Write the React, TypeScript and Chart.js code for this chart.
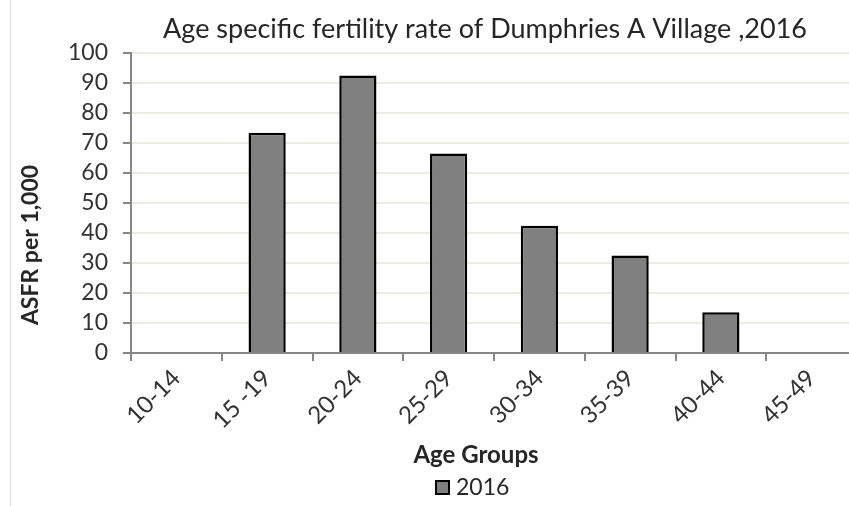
import React, { useEffect, useRef } from 'react';
import { Chart, registerables } from 'chart.js';

Chart.register(...registerables);

const categories = ['10-14', '15 -19', '20-24', '25-29', '30-34', '35-39', '40-44', '45-49'];
const seriesLabel = '2016';
const asfr2016 = [0, 73.4, 92.5, 66.5, 42.4, 32.5, 13.6, 0];
const yMin = 0;
const yMax = 100;
const yStep = 10;
const chartTitle = 'Age specific fertility rate of Dumphries A Village ,2016';
const xAxisTitle = 'Age Groups';
const yAxisTitle = 'ASFR per 1,000';

const FONT = 'Lato, "Liberation Sans", sans-serif';
const TEXT = '#262626';
const TICK_TEXT = '#333333';
const AXIS = '#868686';
const GRID = '#EEECE1';

export default function App() {
  const ref = useRef<HTMLCanvasElement>(null);

  useEffect(() => {
    if (!ref.current) return;

    const textPlugin = {
      id: 'excelTexts',
      afterDraw(chart: any) {
        const ctx = chart.ctx as CanvasRenderingContext2D;
        ctx.save();
        ctx.fillStyle = TEXT;
        ctx.textAlign = 'center';
        ctx.textBaseline = 'alphabetic';
        ctx.font = `400 27px ${FONT}`;
        ctx.fillText(chartTitle, 485, 38);

        ctx.font = `700 24px ${FONT}`;
        ctx.fillText(xAxisTitle, 476, 463);

        ctx.save();
        ctx.translate(31, 245);
        ctx.rotate(-Math.PI / 2);
        ctx.textBaseline = 'middle';
        ctx.font = `700 23px ${FONT}`;
        ctx.fillText(yAxisTitle, 0, 0);
        ctx.restore();

        const ds = chart.data.datasets[0];
        ctx.fillStyle = ds.backgroundColor;
        ctx.fillRect(436, 481, 13, 13);
        ctx.strokeStyle = ds.borderColor;
        ctx.lineWidth = 2;
        ctx.strokeRect(436, 481, 13, 13);
        ctx.fillStyle = TEXT;
        ctx.textAlign = 'left';
        ctx.font = `400 23px ${FONT}`;
        ctx.fillText(ds.label, 456, 495);
        ctx.restore();
      },
    };

    const chart = new Chart(ref.current, {
      type: 'bar',
      data: {
        labels: categories,
        datasets: [
          {
            label: seriesLabel,
            data: asfr2016,
            backgroundColor: '#808080',
            borderColor: '#000000',
            borderWidth: 2.5,
            borderSkipped: 'start',
            categoryPercentage: 1,
            barPercentage: 0.41,
          },
        ],
      },
      options: {
        responsive: false,
        animation: false,
        devicePixelRatio: 1,
        layout: { padding: { left: 10, top: 53, right: 5, bottom: 0 } },
        plugins: {
          legend: { display: false },
          title: { display: false },
          tooltip: { enabled: false },
        },
        scales: {
          x: {
            offset: true,
            grid: {
              offset: true,
              drawOnChartArea: false,
              drawTicks: true,
              tickLength: 8,
              color: AXIS,
              lineWidth: 2,
            },
            border: { display: true, color: AXIS, width: 2 },
            ticks: {
              minRotation: 45,
              maxRotation: 45,
              autoSkip: false,
              padding: 3,
              color: TICK_TEXT,
              font: { family: FONT, size: 24 },
            },
            afterFit: (scale: any) => {
              scale.height = 153;
            },
          },
          y: {
            min: yMin,
            max: yMax,
            grid: {
              color: (c: any) => (c.tick && c.tick.value === 0 ? 'rgba(0,0,0,0)' : GRID),
              tickColor: AXIS,
              lineWidth: 2,
              drawTicks: true,
              tickLength: 8,
            },
            border: { display: true, color: AXIS, width: 2 },
            ticks: {
              stepSize: yStep,
              autoSkip: false,
              padding: 15,
              color: TICK_TEXT,
              font: { family: FONT, size: 23 },
            },
            afterFit: (scale: any) => {
              scale.width = 121;
            },
          },
        },
      },
      plugins: [textPlugin],
    });

    return () => chart.destroy();
  }, []);

  return (
    <div
      style={{
        position: 'fixed',
        left: 0,
        top: 0,
        width: 849,
        height: 506,
        overflow: 'hidden',
        background: '#ffffff',
      }}
    >
      <div
        style={{
          position: 'absolute',
          left: 10,
          top: 0,
          width: 1,
          height: 506,
          background: '#d9d9d9',
        }}
      />
      <canvas
        ref={ref}
        width={862}
        height={506}
        style={{ position: 'absolute', left: 0, top: 0, display: 'block' }}
      />
    </div>
  );
}
